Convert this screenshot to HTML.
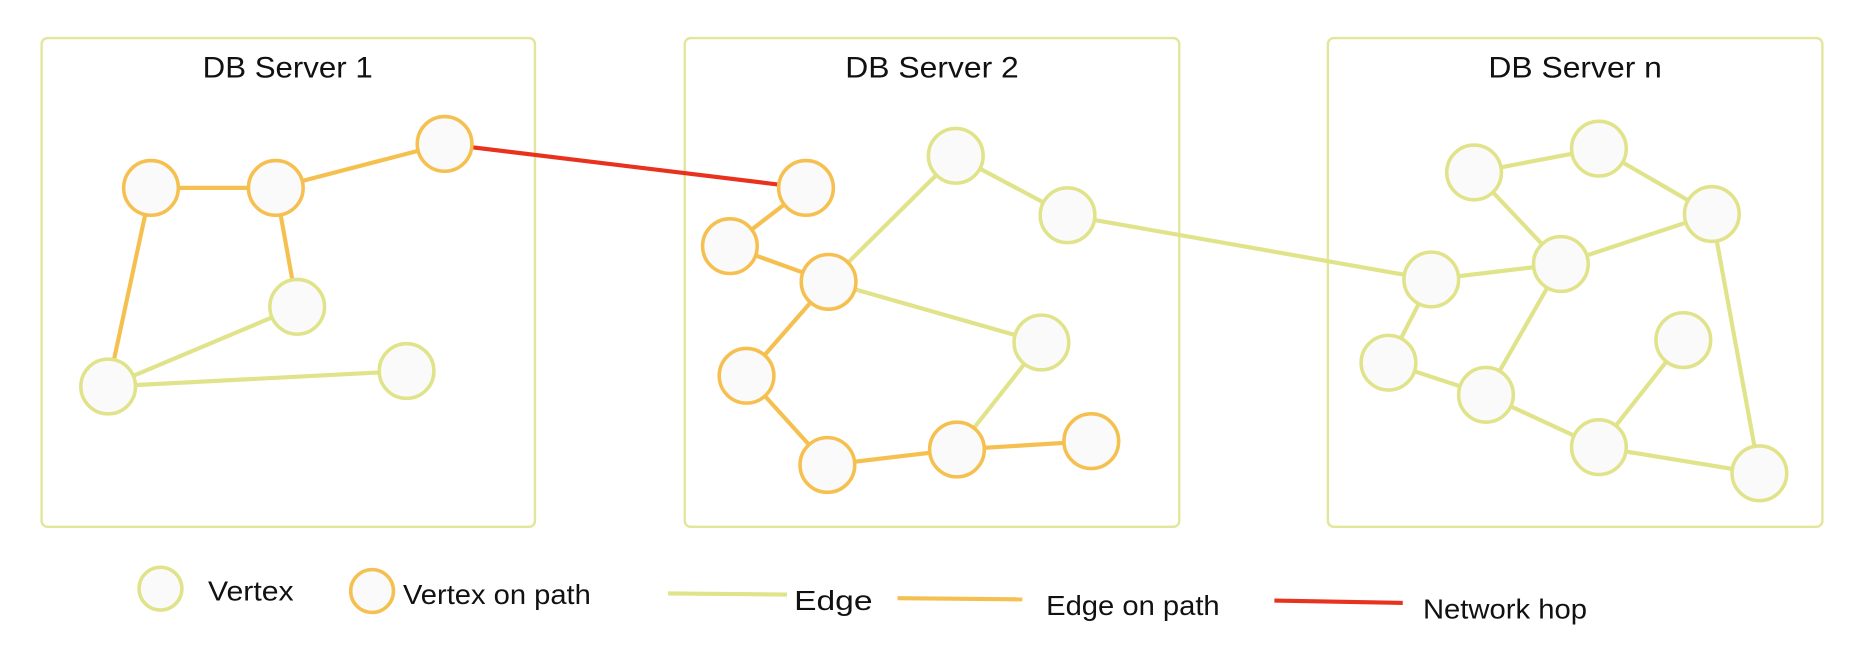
<!DOCTYPE html>
<html><head><style>html,body{margin:0;padding:0;background:#fff}svg{display:block}</style></head>
<body>
<svg width="1864" height="660" viewBox="0 0 1568 555" preserveAspectRatio="none" xmlns="http://www.w3.org/2000/svg" font-family="Liberation Sans, sans-serif">
<g fill="none" stroke="#e3e69a" stroke-width="2">
<rect x="35" y="32" width="415" height="411" rx="5"/>
<rect x="576" y="32" width="416" height="411" rx="5"/>
<rect x="1117" y="32" width="416" height="411" rx="5"/>
</g>
<g font-size="25" text-anchor="middle" fill="#111" textLength="143">
<text x="242" y="65" textLength="143" lengthAdjust="spacingAndGlyphs">DB Server 1</text>
<text x="784" y="65" textLength="146" lengthAdjust="spacingAndGlyphs">DB Server 2</text>
<text x="1325" y="65" textLength="146" lengthAdjust="spacingAndGlyphs">DB Server n</text>
</g>
<g stroke-width="3.5" stroke-linecap="round">
<g stroke="#f5c050">
<line x1="127" y1="158" x2="232" y2="158"/><line x1="232" y1="158" x2="374" y2="121"/>
<line x1="232" y1="158" x2="250" y2="258"/><line x1="127" y1="158" x2="91" y2="325"/>
<line x1="678" y1="158" x2="614" y2="207"/><line x1="614" y1="207" x2="697" y2="237"/>
<line x1="697" y1="237" x2="628" y2="316"/><line x1="628" y1="316" x2="696" y2="391"/>
<line x1="696" y1="391" x2="805" y2="378"/><line x1="805" y1="378" x2="918" y2="371"/>
</g>
<g stroke="#e0e38a">
<line x1="250" y1="258" x2="91" y2="325"/><line x1="91" y1="325" x2="342" y2="312"/>
<line x1="697" y1="237" x2="804" y2="131"/><line x1="804" y1="131" x2="898" y2="181"/>
<line x1="697" y1="237" x2="876" y2="288"/><line x1="876" y1="288" x2="805" y2="378"/>
<line x1="898" y1="181" x2="1204" y2="235"/>
<line x1="1240" y1="145" x2="1345" y2="125"/><line x1="1345" y1="125" x2="1440" y2="180"/>
<line x1="1240" y1="145" x2="1313" y2="222"/><line x1="1440" y1="180" x2="1313" y2="222"/>
<line x1="1204" y1="235" x2="1313" y2="222"/><line x1="1204" y1="235" x2="1168" y2="305"/>
<line x1="1168" y1="305" x2="1250" y2="332"/><line x1="1250" y1="332" x2="1313" y2="222"/>
<line x1="1250" y1="332" x2="1345" y2="376"/><line x1="1345" y1="376" x2="1416" y2="286"/>
<line x1="1345" y1="376" x2="1480" y2="398"/><line x1="1440" y1="180" x2="1480" y2="398"/>
</g>
<line x1="374" y1="121" x2="678" y2="158" stroke="#e8321e"/>
</g>
<g fill="#fafafa" stroke-width="3">
<g stroke="#f5c050">
<circle cx="127" cy="158" r="23"/><circle cx="232" cy="158" r="23"/><circle cx="374" cy="121" r="23"/>
<circle cx="678" cy="158" r="23"/><circle cx="614" cy="207" r="23"/><circle cx="697" cy="237" r="23"/>
<circle cx="628" cy="316" r="23"/><circle cx="696" cy="391" r="23"/><circle cx="805" cy="378" r="23"/><circle cx="918" cy="371" r="23"/>
<circle cx="313" cy="497" r="18"/>
</g>
<g stroke="#e0e38a">
<circle cx="250" cy="258" r="23"/><circle cx="91" cy="325" r="23"/><circle cx="342" cy="312" r="23"/>
<circle cx="804" cy="131" r="23"/><circle cx="898" cy="181" r="23"/><circle cx="876" cy="288" r="23"/>
<circle cx="1204" cy="235" r="23"/><circle cx="1240" cy="145" r="23"/><circle cx="1345" cy="125" r="23"/>
<circle cx="1440" cy="180" r="23"/><circle cx="1313" cy="222" r="23"/><circle cx="1168" cy="305" r="23"/>
<circle cx="1250" cy="332" r="23"/><circle cx="1345" cy="376" r="23"/><circle cx="1416" cy="286" r="23"/>
<circle cx="1480" cy="398" r="23"/>
<circle cx="135" cy="495" r="18"/>
</g>
</g>
<g stroke-width="3.5">
<line x1="562" y1="499" x2="662" y2="500" stroke="#e0e38a"/>
<line x1="755" y1="503" x2="860" y2="504" stroke="#f5c050"/>
<line x1="1072" y1="505" x2="1180" y2="507" stroke="#e8321e"/>
</g>
<g font-size="23" fill="#111">
<text x="175" y="505" textLength="72" lengthAdjust="spacingAndGlyphs">Vertex</text>
<text x="339" y="508" textLength="158" lengthAdjust="spacingAndGlyphs">Vertex on path</text>
<text x="668" y="513" textLength="66" lengthAdjust="spacingAndGlyphs">Edge</text>
<text x="880" y="517" textLength="146" lengthAdjust="spacingAndGlyphs">Edge on path</text>
<text x="1197" y="520" textLength="138" lengthAdjust="spacingAndGlyphs">Network hop</text>
</g>
</svg>
</body></html>
